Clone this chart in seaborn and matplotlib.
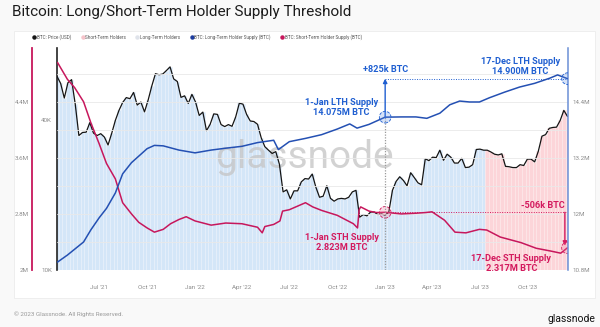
import matplotlib
matplotlib.use("Agg")
import matplotlib.pyplot as plt
import matplotlib.dates as mdates
from matplotlib.ticker import FixedLocator, FuncFormatter, NullLocator
from matplotlib.lines import Line2D
from matplotlib.patches import Rectangle
import numpy as np
import pandas as pd
import seaborn as sns

sns.set_style("white")
plt.rcParams["font.family"] = ["Roboto", "DejaVu Sans"]

# ---------------------------------------------------------------- data
# Weekly BTC close (USD, thousands), Sundays from 2021-04-11
PRICE_START = "2021-04-11"
btc_price_k = [
    # 2021
    60.0, 56.2, 49.1, 56.6, 58.2, 46.4, 34.7, 35.7, 35.8, 39.1, 35.5, 34.7,
    35.3, 34.2, 31.8, 35.4, 39.9, 43.8, 47.1, 49.3, 48.8, 51.7, 46.0, 47.3,
    43.2, 48.2, 54.9, 61.5, 60.9, 61.3, 63.3, 65.5, 58.6, 57.2, 49.4, 50.1,
    46.7, 50.8,
    # 2022
    47.3, 41.8, 43.1, 36.3, 38.5, 42.4, 42.2, 38.4, 37.7, 38.4, 37.8, 41.2,
    46.8, 46.4, 42.2, 39.7, 39.5, 38.5, 34.0, 31.3, 30.3, 29.4, 29.9, 26.6,
    20.6, 21.0, 19.3, 20.8, 20.8, 22.6, 23.3, 23.2, 24.3, 21.5, 19.6, 19.8,
    21.8, 19.4, 18.9, 19.3, 19.4, 19.3, 19.6, 20.6, 20.9, 16.3, 16.7, 16.5,
    17.1, 17.1, 16.7, 16.8,
    # 2023
    16.6, 17.1, 20.9, 22.7, 23.7, 22.9, 21.8, 24.6, 23.5, 22.4, 22.0, 28.0,
    27.5, 28.4, 28.3, 30.3, 27.6, 29.2, 28.4, 26.9, 26.9, 28.1, 25.8, 25.9,
    26.5, 30.5, 30.6, 30.3, 30.3, 29.8, 29.2, 29.0, 29.3, 26.1, 26.0, 25.8,
    25.8, 26.5, 26.3, 27.9, 27.9, 27.2, 30.0, 34.5, 35.0, 37.1, 37.4, 37.5,
    39.9, 43.8, 41.4,
]

# Short-term holder supply (millions BTC)
sth_dates = [
    "2021-04-12", "2021-05-01", "2021-05-15", "2021-06-01", "2021-06-15",
    "2021-07-01", "2021-07-15", "2021-08-01", "2021-08-15", "2021-09-01",
    "2021-09-15", "2021-10-01", "2021-10-15", "2021-11-01", "2021-11-15",
    "2021-12-01", "2021-12-15", "2022-01-01", "2022-02-01", "2022-03-01",
    "2022-04-01", "2022-05-01", "2022-05-10", "2022-05-15", "2022-06-01",
    "2022-06-13", "2022-06-18", "2022-07-01", "2022-08-01", "2022-08-15",
    "2022-09-01", "2022-10-01", "2022-11-01", "2022-11-09", "2022-11-12",
    "2022-11-15", "2022-12-01", "2022-12-15", "2023-01-01", "2023-02-01",
    "2023-03-01", "2023-03-20", "2023-04-01", "2023-04-25", "2023-05-15",
    "2023-06-05", "2023-07-01", "2023-07-15", "2023-08-10", "2023-09-19",
    "2023-10-18", "2023-11-15", "2023-12-04", "2023-12-17",
]
sth_supply = [
    4.96, 4.72, 4.60, 4.40, 4.10,
    3.80, 3.52, 3.30, 2.96, 2.80,
    2.68, 2.60, 2.54, 2.58, 2.66,
    2.72, 2.76, 2.70, 2.64, 2.67,
    2.66, 2.61, 2.53, 2.62, 2.65,
    2.70, 2.84, 2.86, 2.96, 2.90,
    2.85, 2.78, 2.66, 2.60, 2.86,
    2.90, 2.84, 2.82, 2.823, 2.80,
    2.81, 2.82, 2.83, 2.71, 2.54,
    2.53, 2.58, 2.57, 2.47, 2.39,
    2.31, 2.27, 2.24, 2.317,
]

# Long-term holder supply (millions BTC)
lth_dates = [
    "2021-04-12", "2021-05-01", "2021-06-01", "2021-06-15", "2021-07-01",
    "2021-07-15", "2021-08-01", "2021-08-15", "2021-09-01", "2021-10-01",
    "2021-10-15", "2021-11-01", "2021-12-01", "2022-01-01", "2022-02-01",
    "2022-03-01", "2022-04-01", "2022-05-01", "2022-06-01", "2022-06-10",
    "2022-07-01", "2022-08-01", "2022-09-01", "2022-10-01", "2022-10-25",
    "2022-11-08", "2022-12-01", "2023-01-01", "2023-02-01", "2023-03-01",
    "2023-03-22", "2023-04-16", "2023-05-05", "2023-05-24", "2023-06-12",
    "2023-07-01", "2023-07-20", "2023-08-18", "2023-09-16", "2023-10-15",
    "2023-11-13", "2023-11-28", "2023-12-17",
]
lth_supply = [
    10.97, 11.12, 11.40, 11.66, 11.92,
    12.12, 12.45, 12.86, 13.10, 13.40,
    13.47, 13.46, 13.37, 13.31, 13.37,
    13.41, 13.45, 13.53, 13.58, 13.38,
    13.55, 13.62, 13.70, 13.82, 13.93,
    13.84, 13.92, 14.075, 14.08, 14.08,
    14.05, 14.16, 14.34, 14.42, 14.40,
    14.40, 14.49, 14.61, 14.72, 14.80,
    14.91, 14.98, 14.90,
]

sth_regime_start = "2023-07-10"   # price area turns red from here on

mark_start, mark_end = "2023-01-01", "2023-12-17"
lth_start_val, lth_end_val = 14.075, 14.900
sth_start_val, sth_end_val = 2.823, 2.317

legend_labels = ["BTC: Price (USD)", "Short-Term Holders", "Long-Term Holders",
                 "BTC: Long-Term Holder Supply (BTC)",
                 "BTC: Short-Term Holder Supply (BTC)"]

# ---------------------------------------------------------------- colours
C_PRICE = "#151515"
C_LTH = "#2450b3"
C_STH = "#c7175c"
C_LTH_TXT = "#1f5fd1"
C_STH_TXT = "#d31a5e"
C_FILL_BLUE = "#d4e6f8"
C_FILL_RED = "#fcd5d9"
C_TICK = "#8c8c8c"

# ---------------------------------------------------------------- frames
price = pd.DataFrame({
    "date": pd.date_range(PRICE_START, periods=len(btc_price_k), freq="7D"),
    "price": np.array(btc_price_k) * 1000.0,
})
sth = pd.DataFrame({"date": pd.to_datetime(sth_dates), "supply": sth_supply})
lth = pd.DataFrame({"date": pd.to_datetime(lth_dates), "supply": lth_supply})
t_start, t_end = pd.Timestamp(mark_start), pd.Timestamp(mark_end)

# ---------------------------------------------------------------- figure
W, H = 600, 327
fig = plt.figure(figsize=(W / 100, H / 100), dpi=100, facecolor="#f9f9f9")
fig.patches.append(Rectangle((14 / W, 1 - 298 / H), 581 / W, 267 / H,
                             transform=fig.transFigure, facecolor="white",
                             edgecolor="#ececec", lw=0.6, zorder=-5))

ax = fig.add_axes([57 / W, 1 - 270 / H, 511 / W, 222 / H])
ax.set_facecolor("none")

# price area (weekly columns with thin light seams) and price line, log scale
PRICE_FLOOR, PRICE_TOP = 10000, 78000
bar_colors = np.where(price["date"] >= pd.Timestamp(sth_regime_start),
                      C_FILL_RED, C_FILL_BLUE)
seam_colors = np.where(price["date"] >= pd.Timestamp(sth_regime_start),
                       "#fde9eb", "#e9f2fc")
ax.bar(price["date"], price["price"] - PRICE_FLOOR, bottom=PRICE_FLOOR,
       width=7.0, color=bar_colors, edgecolor=seam_colors, linewidth=0.4,
       zorder=1)
ax.text(0.485, 0.505, "glassnode", transform=ax.transAxes, fontsize=28,
        color="#c4c4c4", alpha=0.75, ha="center", va="center", zorder=2,
        family=["Roboto", "DejaVu Sans"])
sns.lineplot(data=price, x="date", y="price", ax=ax, color=C_PRICE,
             linewidth=0.9, zorder=3)
ax.set_yscale("log")
ax.set_ylim(PRICE_FLOOR, PRICE_TOP)
ax.set_xlim(pd.Timestamp("2021-04-11"), pd.Timestamp("2023-12-18"))
ax.yaxis.set_major_locator(FixedLocator([10000, 40000]))
ax.yaxis.set_minor_locator(NullLocator())
ax.yaxis.set_major_formatter(FuncFormatter(lambda v, p: f"{v / 1000:.0f}K"))
ax.xaxis.set_major_locator(mdates.MonthLocator(bymonth=[1, 4, 7, 10]))
ax.xaxis.set_major_formatter(FuncFormatter(
    lambda v, p: mdates.num2date(v).strftime("%b '%y")))
ax.tick_params(axis="x", length=0, labelsize=4.5, labelcolor=C_TICK, pad=11)
ax.tick_params(axis="y", length=0, labelsize=4.5, labelcolor=C_TICK, pad=3.5)
for s in ("top", "right", "bottom"):
    ax.spines[s].set_visible(False)
ax.spines["left"].set_color("#222222")
ax.spines["left"].set_linewidth(1.2)
ax.set_xlabel("")
ax.set_ylabel("")

# short-term holder supply on an outer left axis
ax_sth = ax.twinx()
ax_sth.spines["left"].set_position(("axes", -25 / 511))
ax_sth.spines["left"].set_visible(True)
ax_sth.spines["left"].set_color(C_STH)
ax_sth.spines["left"].set_linewidth(1.3)
for s in ("top", "right", "bottom"):
    ax_sth.spines[s].set_visible(False)
ax_sth.yaxis.set_ticks_position("left")
ax_sth.yaxis.set_label_position("left")
ax_sth.set_ylim(2.0, 2.0 + 222 / 70.1)
ax_sth.yaxis.set_major_locator(FixedLocator([2.0, 2.8, 3.6, 4.4]))
ax_sth.yaxis.set_minor_locator(FixedLocator([2.4, 3.2, 4.0, 4.8]))
ax_sth.yaxis.set_major_formatter(FuncFormatter(lambda v, p: f"{v:g}M"))
ax_sth.tick_params(axis="y", which="both", length=0, labelsize=4.5,
                   labelcolor=C_TICK, pad=2.5)
ax_sth.grid(axis="y", which="both", color="#e9e9e9", linewidth=0.6)
ax_sth.set_axisbelow(True)
sns.lineplot(data=sth, x="date", y="supply", ax=ax_sth, color=C_STH,
             linewidth=1.1, zorder=4)
ax_sth.set_xlabel("")
ax_sth.set_ylabel("")

# long-term holder supply on the right axis
ax_lth = ax.twinx()
for s in ("top", "left", "bottom"):
    ax_lth.spines[s].set_visible(False)
ax_lth.spines["right"].set_color("#6b8fd6")
ax_lth.spines["right"].set_linewidth(1.1)
ax_lth.set_ylim(10.8, 10.8 + 222 / 46.67)
ax_lth.yaxis.set_major_locator(FixedLocator([10.8, 12.0, 13.2, 14.4]))
ax_lth.yaxis.set_major_formatter(FuncFormatter(lambda v, p: f"{v:g}M"))
ax_lth.tick_params(axis="y", length=0, labelsize=4.5, labelcolor=C_TICK,
                   pad=3)
sns.lineplot(data=lth, x="date", y="supply", ax=ax_lth, color=C_LTH,
             linewidth=1.1, zorder=4)
ax_lth.set_xlabel("")
ax_lth.set_ylabel("")

# ---------------------------------------------------------------- markup
txt_kw = dict(fontsize=6.6, fontweight="bold", ha="center", va="center",
              linespacing=1.15, textcoords="offset pixels")

# LTH change since 1 Jan
ax_lth.vlines(t_start, 10.8, lth_start_val, colors="#9a9a9a",
              linestyles=(0, (1, 1.2)), linewidth=0.9, zorder=3)
ax_lth.hlines(lth_end_val, t_start, t_end, colors=C_LTH_TXT,
              linestyles=(0, (1, 1.5)), linewidth=0.7, zorder=3)
ax_lth.annotate("", xy=(t_start, lth_end_val), xytext=(t_start, lth_start_val),
                arrowprops=dict(arrowstyle="-|>", color=C_LTH_TXT, lw=1.0,
                                mutation_scale=6, shrinkA=0, shrinkB=0),
                zorder=5)
ax_lth.scatter([t_start, t_end], [lth_start_val, lth_end_val], s=70,
               facecolor=(0.35, 0.55, 0.9, 0.25), edgecolor=C_LTH_TXT,
               linestyle="--", linewidth=0.6, zorder=6)
lth_delta = (lth_end_val - lth_start_val) * 1000
ax_lth.annotate(f"+{lth_delta:.0f}k BTC", xy=(t_start, lth_end_val),
                xytext=(0, 9), color=C_LTH_TXT, **txt_kw)
ax_lth.annotate(f"1-Jan LTH Supply\n{lth_start_val:.3f}M BTC",
                xy=(t_start, lth_start_val), xytext=(-44, 10),
                color=C_LTH_TXT, **txt_kw)
ax_lth.annotate(f"17-Dec LTH Supply\n{lth_end_val:.3f}M BTC",
                xy=(t_end, lth_end_val), xytext=(-47, 12),
                color=C_LTH_TXT, **txt_kw)

# STH change since 1 Jan
ax_sth.hlines(sth_start_val, t_start, t_end, colors=C_STH_TXT,
              linestyles=(0, (1, 1.5)), linewidth=0.7, zorder=3)
ax_sth.annotate("", xy=(t_end - pd.Timedelta(days=5), sth_end_val + 0.03),
                xytext=(t_end - pd.Timedelta(days=5), sth_start_val),
                arrowprops=dict(arrowstyle="-|>", color=C_STH_TXT, lw=1.0,
                                mutation_scale=6, shrinkA=0, shrinkB=0),
                zorder=5)
ax_sth.scatter([t_start, t_end], [sth_start_val, sth_end_val], s=70,
               facecolor=(0.95, 0.45, 0.6, 0.25), edgecolor=C_STH_TXT,
               linestyle="--", linewidth=0.6, zorder=6)
sth_delta = (sth_end_val - sth_start_val) * 1000
ax_sth.annotate(f"{sth_delta:.0f}k BTC", xy=(t_end, sth_start_val),
                xytext=(-25, 7), color=C_STH_TXT, **txt_kw)
ax_sth.annotate(f"1-Jan STH Supply\n{sth_start_val:.3f}M BTC",
                xy=(t_start, sth_start_val), xytext=(-43, -30),
                color=C_STH_TXT, **txt_kw)
ax_sth.annotate(f"17-Dec STH Supply\n{sth_end_val:.3f}M BTC",
                xy=(t_end, sth_end_val), xytext=(-56, -16),
                color=C_STH_TXT, **txt_kw)

# ---------------------------------------------------------------- legend, titles
leg_colors = [C_PRICE, "#f6c3ca", "#dfe3ea", "#1d3c9e", C_STH]
handles = [Line2D([], [], linestyle="none", marker="o", markersize=2.2,
                  markerfacecolor=c, markeredgecolor=c) for c in leg_colors]
fig.legend(handles, legend_labels, loc="center left",
           bbox_to_anchor=(29 / W, 1 - 37 / H), ncol=5, frameon=False,
           fontsize=3.3, handlelength=0.5, handletextpad=0.35,
           columnspacing=2.2, labelcolor="#555555")

fig.text(12 / W, 1 - 12 / H, "Bitcoin: Long/Short-Term Holder Supply Threshold",
         fontsize=11, color="#1c1c1c", ha="left", va="center")
fig.text(14 / W, 1 - 314 / H, "\u00a9 2023 Glassnode. All Rights Reserved.",
         fontsize=4.5, color="#9a9a9a", ha="left", va="center")
fig.text(595 / W, 1 - 319 / H, "glassnode", fontsize=7.5, color="#111111",
         ha="right", va="center")

fig.savefig("out.png", dpi=100, facecolor=fig.get_facecolor())
